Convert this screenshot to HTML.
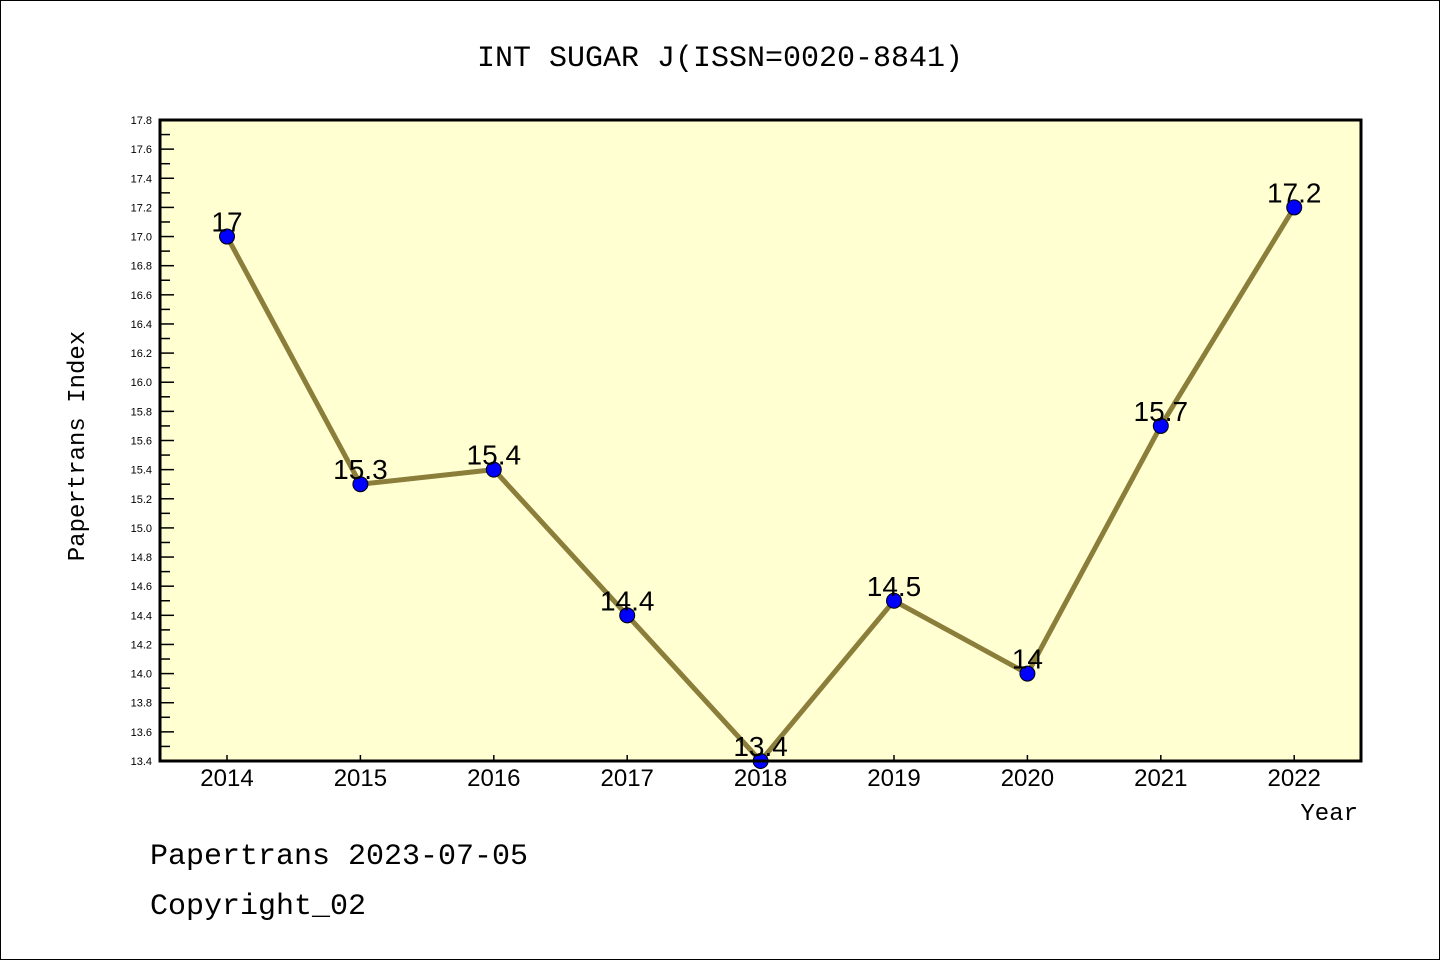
<!DOCTYPE html>
<html><head><meta charset="utf-8"><style>
body{margin:0;background:#fff;}
svg{display:block;}
</style></head><body>
<svg id="chart" width="1440" height="960" xmlns="http://www.w3.org/2000/svg">
<rect x="0.5" y="0.5" width="1439" height="959" fill="#fff" stroke="#000" stroke-width="1"/>
<text x="720" y="66" text-anchor="middle" font-family="Liberation Mono, monospace" font-size="30">INT SUGAR J(ISSN=0020-8841)</text>
<rect x="160" y="120" width="1201" height="641" fill="#ffffd2"/>
<g id="axes"></g>
<g id="series"></g>
<rect x="160" y="120" width="1201" height="641" fill="none" stroke="#000" stroke-width="3"/>
<text x="84" y="446" text-anchor="middle" transform="rotate(-90 84 446)" font-family="Liberation Mono, monospace" font-size="24">Papertrans Index</text>
<text x="1358" y="820" text-anchor="end" font-family="Liberation Mono, monospace" font-size="24">Year</text>
<text x="150" y="864" font-family="Liberation Mono, monospace" font-size="30">Papertrans 2023-07-05</text>
<text x="150" y="914" font-family="Liberation Mono, monospace" font-size="30">Copyright_02</text>
</svg>
<script>
const years = ["2014","2015","2016","2017","2018","2019","2020","2021","2022"];
const values = [17, 15.3, 15.4, 14.4, 13.4, 14.5, 14, 15.7, 17.2];
const valueLabels = ["17","15.3","15.4","14.4","13.4","14.5","14","15.7","17.2"];
const yTicks = ["13.4","13.6","13.8","14.0","14.2","14.4","14.6","14.8","15.0","15.2","15.4","15.6","15.8","16.0","16.2","16.4","16.6","16.8","17.0","17.2","17.4","17.6","17.8"];
const NS="http://www.w3.org/2000/svg";
const yMin=13.4,yMax=17.8,plotTop=120,plotBot=761,plotLeft=160;
const yS=v=>plotBot-(v-yMin)/(yMax-yMin)*(plotBot-plotTop);
const xS=i=>227+i*133.4;
function mk(t,a,p){const e=document.createElementNS(NS,t);for(const k in a)e.setAttribute(k,a[k]);p.appendChild(e);return e;}
const ax=document.getElementById('axes');
yTicks.forEach((t,i)=>{
  const v=parseFloat(t),y=yS(v);
  const tk=mk('line',{x1:plotLeft,x2:plotLeft+14,y1:y,y2:y,stroke:'#000','stroke-width':1.5},ax);
  
  
  const lb=mk('text',{x:152,y:y+4,'text-anchor':'end','font-family':'Liberation Sans, sans-serif','font-size':11},ax);
  lb.textContent=t;
  
  
  if(i<yTicks.length-1){const ym=yS(v+0.1);
    const mn=mk('line',{x1:plotLeft,x2:plotLeft+10,y1:ym,y2:ym,stroke:'#000','stroke-width':1.5},ax);
    
    }
});
years.forEach((yr,i)=>{
  const x=xS(i);
  const tk=mk('line',{x1:x,x2:x,y1:plotBot,y2:plotBot-6,stroke:'#000','stroke-width':1.5},ax);
  
  
  const lb=mk('text',{x:x,y:plotBot+25,'text-anchor':'middle','font-family':'Liberation Sans, sans-serif','font-size':24},ax);
  lb.textContent=yr;
  
  
});
const sg=document.getElementById('series');
const pl=mk('polyline',{points:values.map((v,i)=>xS(i)+','+yS(v)).join(' '),fill:'none',stroke:'#8b7d3a','stroke-width':5},sg);


values.forEach((v,i)=>{
  const c=mk('circle',{cx:xS(i),cy:yS(v),r:7.5,fill:'#0000ff',stroke:'#000','stroke-width':1},sg);
  
  
  const t=mk('text',{x:xS(i),y:yS(v)-5,'text-anchor':'middle','font-family':'Liberation Sans, sans-serif','font-size':28},sg);
  t.textContent=valueLabels[i];
  
  
});
</script>
</body></html>
